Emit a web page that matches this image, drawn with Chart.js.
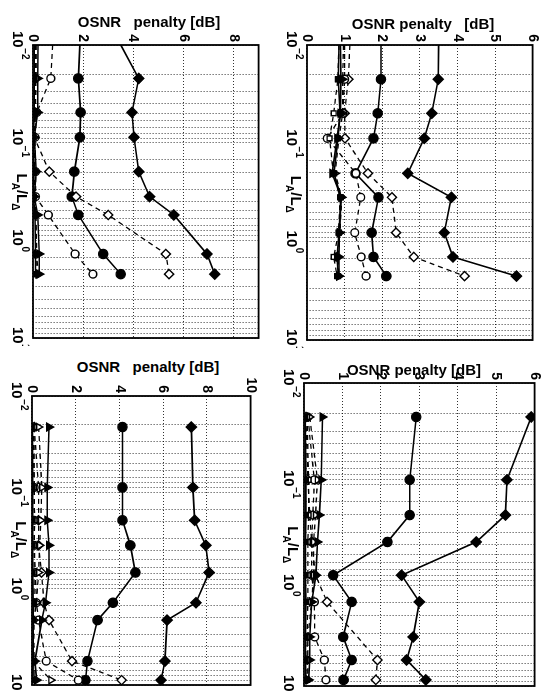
<!DOCTYPE html>
<html><head><meta charset="utf-8">
<script src="https://cdn.jsdelivr.net/npm/chart.js@4.4.1/dist/chart.umd.min.js"></script>
<style>
html,body{margin:0;padding:0;background:#fff;width:550px;height:691px;overflow:hidden;position:relative;font-family:"Liberation Sans",Arial,sans-serif;}
.title{position:absolute;font-weight:bold;font-size:15px;white-space:pre;transform:translateX(-50%);line-height:15px;color:#000;z-index:5}
.holder{position:absolute;}
.holder canvas{position:absolute;left:0;top:0;transform-origin:0 0;}
</style></head><body>
<script>
// ---------- data (L_A/L_Delta values and OSNR penalty in dB) ----------
const decadeTicks = [0.01, 0.1, 1, 10];
const decadeExp = ['−2', '−1', '0', '1'];

// top-left panel
const A_L        = [0.01, 0.022, 0.049, 0.088, 0.198, 0.357, 0.55, 1.38, 2.22];
const A_fDiamond = [3.5, 4.22, 3.95, 4.03, 4.22, 4.65, 5.62, 6.94, 7.25];
const A_fCircle  = [1.87, 1.81, 1.9, 1.87, 1.65, 1.55, 1.81, 2.8, 3.5];
const A_oDiamond = [0.1, 0.1, 0.08, 0.05, 0.65, 1.72, 3.0, 5.3, 5.43];
const A_oCircle  = [0.78, 0.71, 0.15, 0.08, 0.1, 0.1, 0.61, 1.68, 2.39];
const A_fTriangle= [0.2, 0.19, 0.19, 0.05, 0.13, 0.05, 0.19, 0.25, 0.25];
const A_fSquare  = [0.05, 0.05, 0.05, 0.02, 0.04, 0.02, 0.08, 0.1, 0.1];
const A_oTriangle= [0.12, 0.12, 0.1, 0.05, 0.08, 0.05, 0.12, 0.15, 0.2];
const A_oSquare  = [0.1, 0.1, 0.08, 0.03, 0.06, 0.04, 0.1, 0.12, 0.12];

// top-right panel
const B_L        = [0.01, 0.0223, 0.0495, 0.089, 0.202, 0.354, 0.81, 1.43, 2.24];
const B_fDiamond = [3.5, 3.49, 3.32, 3.12, 2.68, 3.84, 3.65, 3.88, 5.57];
const B_fCircle  = [1.97, 1.97, 1.88, 1.77, 1.29, 1.9, 1.72, 1.77, 2.11];
const B_oDiamond = [1.14, 1.1, 1.0, 1.01, 1.62, 2.26, 2.37, 2.84, 4.19];
const B_oCircle  = [1.0, 1.0, 0.95, 0.54, 1.3, 1.43, 1.27, 1.44, 1.57];
const B_fTriangle= [0.89, 0.9, 0.89, 0.8, 0.67, 0.91, 0.86, 0.85, 0.85];
const B_fSquare  = [0.85, 0.83, 0.88, 0.82, 0.72, 0.9, 0.85, 0.8, 0.83];
const B_oTriangle= [0.97, 0.95, 0.95, 0.85, 0.75, 0.92, 0.88, 0.82, 0.85];
const B_oSquare  = [0.85, 0.82, 0.71, 0.6, 0.7, 0.88, 0.84, 0.71, 0.8];

// bottom-left panel
const C_L        = [0.021, 0.089, 0.195, 0.355, 0.68, 1.4, 2.12, 5.65, 8.9];
const C_fDiamond = [7.29, 7.36, 7.44, 7.95, 8.1, 7.5, 6.18, 6.08, 5.9];
const C_fCircle  = [4.14, 4.14, 4.14, 4.5, 4.73, 3.7, 3.0, 2.54, 2.45];
const C_oDiamond = [0.1, 0.3, 0.3, 0.3, 0.43, 0.55, 0.78, 1.83, 4.1];
const C_oCircle  = [0.05, 0.1, 0.1, 0.1, 0.15, 0.2, 0.3, 0.65, 2.12];
const C_fTriangle= [0.78, 0.7, 0.7, 0.78, 0.78, 0.62, 0.45, 0.13, 0.21];
const C_fSquare  = [0.02, 0.03, 0.03, 0.03, 0.03, 0.05, 0.06, 0.05, 0.04];
const C_oTriangle= [0.3, 0.45, 0.4, 0.35, 0.3, 0.2, 0.1, 0.05, 0.87];
const C_oSquare  = [0.1, 0.1, 0.12, 0.1, 0.1, 0.1, 0.06, 0.1, 0.1];

// bottom-right panel
const D_L        = [0.0217, 0.091, 0.203, 0.375, 0.80, 1.47, 3.27, 5.53, 8.7];
const D_fDiamond = [5.91, 5.28, 5.24, 4.48, 2.54, 3.0, 2.84, 2.67, 3.17];
const D_fCircle  = [2.92, 2.75, 2.75, 2.17, 0.76, 1.24, 1.02, 1.24, 1.03];
const D_oDiamond = [0.05, 0.1, 0.15, 0.2, 0.3, 0.6, null, 1.91, 1.87];
const D_oCircle  = [0.1, 0.27, 0.23, 0.2, 0.2, 0.27, 0.28, 0.53, 0.57];
const D_fTriangle= [0.48, 0.45, 0.4, 0.35, 0.31, 0.2, 0.15, 0.15, 0.12];
const D_fSquare  = [0.03, 0.05, 0.05, 0.04, 0.04, 0.05, 0.04, 0.04, 0.05];
const D_oTriangle= [0.15, 0.35, 0.3, 0.25, 0.25, 0.2, 0.1, 0.1, 0.1];
const D_oSquare  = [0.08, 0.12, 0.12, 0.1, 0.1, 0.1, 0.08, 0.08, 0.08];

// ---------- styles ----------
const STYLES = {
  fSquare:  {ps:'rect',     filled:true,  dashed:false, r:3.4},
  oSquare:  {ps:'rect',     filled:false, dashed:true,  r:3.4},
  fTriangle:{ps:'triangle', filled:true,  dashed:false, r:4.5},
  oTriangle:{ps:'triangle', filled:false, dashed:true,  r:4.2},
  oCircle:  {ps:'circle',   filled:false, dashed:true,  r:3.9},
  oDiamond: {ps:'rectRot',  filled:false, dashed:true,  r:4.6},
  fCircle:  {ps:'circle',   filled:true,  dashed:false, r:4.6},
  fDiamond: {ps:'rectRot',  filled:true,  dashed:false, r:5.1}
};

const panels = [
  {plot:[33,45,266,338],  pmax:9,  step:2, L:A_L, labelAt:0.32,
   s:{fSquare:A_fSquare,oSquare:A_oSquare,fTriangle:A_fTriangle,oTriangle:A_oTriangle,oCircle:A_oCircle,oDiamond:A_oDiamond,fCircle:A_fCircle,fDiamond:A_fDiamond},
   title:'OSNR   penalty [dB]', tx:149, ty:14},
  {plot:[307,45,540,340], pmax:6,  step:1, L:B_L, labelAt:0.33,
   s:{fSquare:B_fSquare,oSquare:B_oSquare,fTriangle:B_fTriangle,oTriangle:B_oTriangle,oCircle:B_oCircle,oDiamond:B_oDiamond,fCircle:B_fCircle,fDiamond:B_fDiamond},
   title:'OSNR penalty   [dB]', tx:423, ty:16},
  {plot:[32,396,258,685], pmax:10, step:2, L:C_L, labelAt:0.31,
   s:{fSquare:C_fSquare,oSquare:C_oSquare,fTriangle:C_fTriangle,oTriangle:C_oTriangle,oCircle:C_oCircle,oDiamond:C_oDiamond,fCircle:C_fCircle,fDiamond:C_fDiamond},
   title:'OSNR   penalty [dB]', tx:148, ty:359},
  {plot:[304,383,542,686], pmax:6, step:1, L:D_L, labelAt:0.4,
   s:{fSquare:D_fSquare,oSquare:D_oSquare,fTriangle:D_fTriangle,oTriangle:D_oTriangle,oCircle:D_oCircle,oDiamond:D_oDiamond,fCircle:D_fCircle,fDiamond:D_fDiamond},
   title:'OSNR penalty [dB]', tx:414, ty:362}
];

const framePlugin = {
  id:'frame',
  afterDraw(chart){
    const a = chart.chartArea, ctx = chart.ctx;
    ctx.save();
    ctx.strokeStyle = '#000'; ctx.lineWidth = 1.8; ctx.setLineDash([]);
    ctx.strokeRect(a.left, a.top, a.right - a.left, a.bottom - a.top);
    ctx.restore();
  }
};

function makeLabelPlugin(labelAt){
  return {
    id:'xlabels',
    afterDraw(chart){
      const xs = chart.scales.x, a = chart.chartArea, ctx = chart.ctx;
      ctx.save();
      ctx.fillStyle = '#000';
      ctx.textBaseline = 'alphabetic';
      const big = 'bold 15px "Liberation Sans", Arial, sans-serif';
      const small = 'bold 10px "Liberation Sans", Arial, sans-serif';
      decadeTicks.forEach((v, i) => {
        const px = xs.getPixelForValue(v);
        ctx.font = big; const w1 = ctx.measureText('10').width;
        ctx.font = small; const w2 = ctx.measureText(decadeExp[i]).width;
        const x0 = px - (w1 + w2) / 2;
        ctx.font = big; ctx.fillText('10', x0, a.bottom + 20);
        ctx.font = small; ctx.fillText(decadeExp[i], x0 + w1 + 0.5, a.bottom + 11);
      });
      // axis label L_A / L_Delta
      const parts = [['L',big,0],['A',small,5],['/',big,0],['L',big,0],['Δ',small,5]];
      let tw = 0;
      parts.forEach(p => { ctx.font = p[1]; tw += ctx.measureText(p[0]).width; });
      let x = xs.getPixelForValue(labelAt) - tw / 2;
      parts.forEach(p => { ctx.font = p[1]; ctx.fillText(p[0], x, a.bottom + 16 + p[2]); x += ctx.measureText(p[0]).width; });
      ctx.restore();
    }
  };
}

panels.forEach(p => {
  const [L, T, R, B] = p.plot;
  const left = L - 32, top = T - 18;
  const Hc = R - L + 36;       // canvas height = screen width
  const Wc = B - T + 26;       // canvas width = screen height
  const holder = document.createElement('div');
  holder.className = 'holder';
  holder.style.left = left + 'px'; holder.style.top = top + 'px';
  holder.style.width = Hc + 'px'; holder.style.height = Wc + 'px';
  const cv = document.createElement('canvas');
  cv.width = Wc; cv.height = Hc;
  cv.style.width = Wc + 'px'; cv.style.height = Hc + 'px';
  cv.style.transform = 'translate(' + Hc + 'px,0) rotate(90deg)';
  holder.appendChild(cv);
  document.body.appendChild(holder);

  const t = document.createElement('div');
  t.className = 'title'; t.textContent = p.title;
  t.style.left = p.tx + 'px'; t.style.top = p.ty + 'px';
  document.body.appendChild(t);

  const datasets = Object.keys(p.s).map(k => {
    const st = STYLES[k];
    return {
      label: k,
      data: p.L.map((lv, i) => ({x: lv, y: p.s[k][i]})),
      borderColor: '#000',
      borderWidth: st.dashed ? 1.3 : 1.6,
      borderDash: st.dashed ? [5, 4] : [],
      pointStyle: st.ps,
      pointRadius: ctx => (ctx.raw && ctx.raw.x <= 0.01) ? 0 : st.r,
      pointBackgroundColor: st.filled ? '#000' : '#fff',
      pointBorderColor: '#000',
      pointBorderWidth: 1.4,
      fill: false,
      tension: 0,
      spanGaps: true
    };
  });

  new Chart(cv, {
    type: 'line',
    data: {datasets},
    options: {
      responsive: false, maintainAspectRatio: false, animation: false, events: [],
      layout: {autoPadding: false, padding: {left: 0, top: 4, right: 8, bottom: 0}},
      plugins: {legend: {display: false}, tooltip: {enabled: false}},
      scales: {
        x: {
          type: 'logarithmic', min: 0.01, max: 10,
          afterFit(s){ s.height = 32; },
          grid: {color: 'rgba(0,0,0,0.8)', lineWidth: 1, drawTicks: false},
          border: {display: false, dash: [1, 2]},
          ticks: {autoSkip: false, maxRotation: 0, callback: () => '', padding: 0}
        },
        y: {
          type: 'linear', min: 0, max: p.pmax,
          afterFit(s){ s.width = 18; },
          grid: {color: 'rgba(0,0,0,0.8)', lineWidth: 1, drawTicks: false},
          border: {display: false, dash: [1, 2]},
          ticks: {
            stepSize: p.step, padding: 3, color: '#000',
            font: {family: '"Liberation Sans", Arial, sans-serif', weight: 'bold', size: 14},
            callback: v => (Math.abs(v / p.step - Math.round(v / p.step)) < 1e-9) ? String(v) : ''
          }
        }
      }
    },
    plugins: [framePlugin, makeLabelPlugin(p.labelAt)]
  });
});
</script>
</body></html>
